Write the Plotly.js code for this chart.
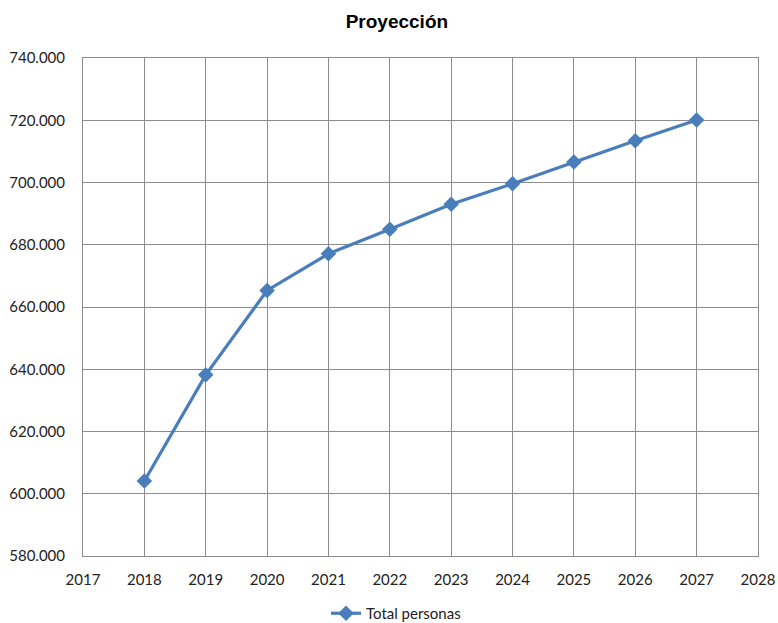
<!DOCTYPE html>
<html>
<head>
<meta charset="utf-8">
<script src="https://cdn.plot.ly/plotly-3.0.1.min.js"></script>
<style>html,body{margin:0;padding:0;background:#fff}#chart{width:778px;height:623px}</style>
</head>
<body>
<div id="chart"></div>
<script>
const years = [2018, 2019, 2020, 2021, 2022, 2023, 2024, 2025, 2026, 2027];
const totalPersonas = [604100, 638200, 665300, 677100, 685000, 693000, 699600, 706600, 713400, 720100];
const seriesName = 'Total personas';
const chartTitle = 'Proyección';

const font = 'Lato, Carlito, "Open Sans", sans-serif';
const gridColor = '#8c8c8c';

Plotly.newPlot('chart', [{
  x: years,
  y: totalPersonas,
  name: seriesName,
  type: 'scatter',
  mode: 'lines+markers',
  line: {color: '#4a7ebb', width: 3.2},
  marker: {symbol: 'diamond', size: 12, color: '#4a7ebb'}
}], {
  width: 778, height: 623,
  margin: {l: 83, r: 20, t: 58, b: 67},
  separators: ',.',
  paper_bgcolor: '#fff', plot_bgcolor: '#fff',
  title: {text: chartTitle, font: {family: '"Liberation Sans", Arial, sans-serif', size: 19, color: '#000', weight: 'bold'}, x: 0.465, xref: 'paper', xanchor: 'center', y: 0.965, yref: 'container', yanchor: 'middle'},
  xaxis: {
    range: [2017, 2028], dtick: 1, tick0: 2017,
    showgrid: true, gridcolor: gridColor, gridwidth: 1,
    showline: true, mirror: true, linecolor: gridColor, linewidth: 1,
    zeroline: false, ticks: '', ticklabelstandoff: 10,
    tickfont: {family: font, size: 15, color: '#222'}
  },
  yaxis: {
    range: [580000, 740000], dtick: 20000, tick0: 580000, tickformat: ',.0f',
    showgrid: true, gridcolor: gridColor, gridwidth: 1,
    showline: true, mirror: true, linecolor: gridColor, linewidth: 1,
    zeroline: false, ticks: '', ticklabelstandoff: 14,
    tickfont: {family: font, size: 15, color: '#222'}
  },
  showlegend: true,
  legend: {orientation: 'h', x: 0.36, xanchor: 'left', xref: 'paper', y: 0.0, yref: 'container', yanchor: 'bottom',
    tracegroupgap: 0, itemwidth: 30, borderwidth: 0,
    font: {family: font, size: 15, color: '#222'}, bgcolor: 'rgba(0,0,0,0)'}
}, {displayModeBar: false, staticPlot: true}).then(function(gd){
  // nudge legend group slightly down to match reference baseline
  var lg = gd.querySelector('.legend');
  if (lg) {
    var t = lg.getAttribute('transform') || '';
    var m = t.match(/translate\(([-\d.]+),\s*([-\d.]+)\)/);
    if (m) lg.setAttribute('transform', 'translate(' + m[1] + ',' + (parseFloat(m[2]) + 7) + ')');
  }
});
</script>
</body>
</html>
